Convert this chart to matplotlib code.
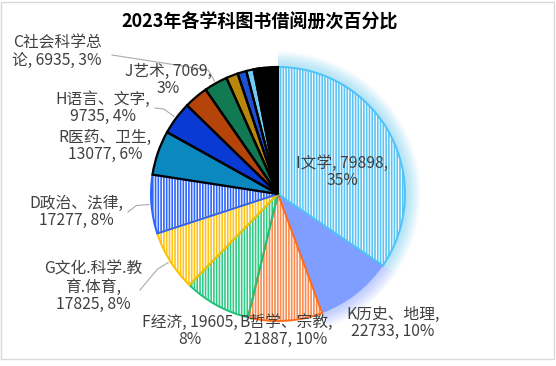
import numpy as np
import matplotlib.pyplot as plt
from matplotlib.patches import Wedge, Rectangle
from matplotlib.lines import Line2D

plt.rcParams['font.family'] = ['Noto Sans CJK SC', 'DejaVu Sans']
plt.rcParams['hatch.linewidth'] = 0.8

# ======================================
# Data
# ======================================

title = "2023年各学科图书借阅册次百分比"

labels = ["I文学", "K历史、地理", "B哲学、宗教", "F经济", "G文化.科学.教育.体育",
          "D政治、法律", "R医药、卫生", "H语言、文字", "J艺术", "C社会科学总论",
          "E军事", "O数理科学和化学", "Z综合性图书", "X环境科学", "N自然科学总论",
          "Q生物科学", "其他"]
values = [79898, 22733, 21887, 19605, 17825, 17277, 13077, 9735, 7069, 6935,
          3500, 2600, 2200, 700, 600, 500, 5300]
label_text = ["I文学, 79898,\n35%", "K历史、地理,\n22733, 10%", "B哲学、宗教,\n21887, 10%",
              "F经济, 19605,\n8%", "G文化.科学.教\n育.体育,\n17825, 8%",
              "D政治、法律,\n17277, 8%", "R医药、卫生,\n13077, 6%", "H语言、文字,\n9735, 4%",
              "J艺术, 7069,\n3%", "C社会科学总\n论, 6935, 3%"]

fills = ["#5cc4f5", "#7f9eff", "#fb8a4c", "#2fcb86", "#ffc41a", "#2f66ff",
         "#0b89bf", "#0a3ad4", "#b5440a", "#127a52",
         "#b8860b", "#1f4fd1", "#6ecbf5", "#8a80b0", "#e07030", "#20a070", "#000000"]
edges = ["#4fc3f7", "#6d8cff", "#ff6a1a", "#1fc07a", "#ffc000", "#2962ff"] + ["black"] * 11
hatched = [True, False, True, True, True, True] + [False] * 11

# ======================================
# Layout (pixels)
# ======================================

W, H = 556, 366
cx, cy, R = 278, 194, 127

fig = plt.figure(figsize=(W / 100, H / 100), dpi=100)
ax = fig.add_axes([(cx - R) / W, (H - cy - R) / H, 2 * R / W, 2 * R / H])

fig.patches.append(Rectangle((1 / W, 7 / H), 553 / W, 357 / H, transform=fig.transFigure,
                             fill=False, edgecolor="#d9d9d9", lw=1))

wedges, _ = ax.pie(values, startangle=90, counterclock=False, radius=1,
                   wedgeprops=dict(linewidth=0))
ax.set_xlim(-1, 1)
ax.set_ylim(-1, 1)
ax.set_aspect("auto")
ax.axis("off")

# glow behind the I and K slices
for i, col in [(0, "#4fc3f7"), (1, "#6d8cff")]:
    w = wedges[i]
    for k in range(10, 0, -1):
        g = Wedge((0, 0), 1 + 0.012 * k, w.theta1, w.theta2, facecolor=col,
                  edgecolor="none", alpha=0.05, zorder=0, clip_on=False)
        ax.add_patch(g)

for i, w in enumerate(wedges):
    w.set_facecolor(fills[i])
    w.set_clip_on(False)
    w.set_zorder(2)
    if hatched[i]:
        ax.add_patch(Wedge((0, 0), 1, w.theta1, w.theta2, facecolor="none",
                           edgecolor="white", hatch="||||||", lw=0, zorder=3, clip_on=False))
        ax.add_patch(Wedge((0, 0), 1, w.theta1, w.theta2, facecolor="none",
                           edgecolor=edges[i], lw=1.4, zorder=4, clip_on=False))
    elif edges[i] == "black":
        ax.add_patch(Wedge((0, 0), 1, w.theta1, w.theta2, facecolor="none",
                           edgecolor="black", lw=1.6, zorder=5, clip_on=False))

# ======================================
# Labels
# ======================================

def px(x, y):
    return x / W, 1 - y / H

fig.text(*px(260, 22), title, ha="center", va="center", fontsize=13,
         fontweight="bold", color="black")

label_pos = [(342, 172), (393, 323), (286, 331), (190, 331), (93, 287),
             (76, 212), (105, 146), (103, 108), (168, 80), (57, 52)]
for t, (x, y) in zip(label_text, label_pos):
    fig.text(*px(x, y), t, ha="center", va="center", fontsize=11.3,
             color="#404040", linespacing=1.05)

# leader lines: from label to wedge edge
leaders = {9: (112, 55), 7: (155, 108), 5: (128, 212), 4: (140, 290)}
for i, (lx, ly) in leaders.items():
    w = wedges[i]
    a = np.deg2rad((w.theta1 + w.theta2) / 2)
    ex, ey = cx + R * 1.02 * np.cos(a), cy - R * 1.02 * np.sin(a)
    mx, my = cx + R * 1.12 * np.cos(a), cy - R * 1.12 * np.sin(a)
    xs = [lx, mx, ex]
    ys = [ly, my, ey]
    fig.lines.append(Line2D([x / W for x in xs], [1 - y / H for y in ys],
                            transform=fig.transFigure, color="#aaaaaa", lw=0.8))

fig.savefig("out.png", dpi=100)
